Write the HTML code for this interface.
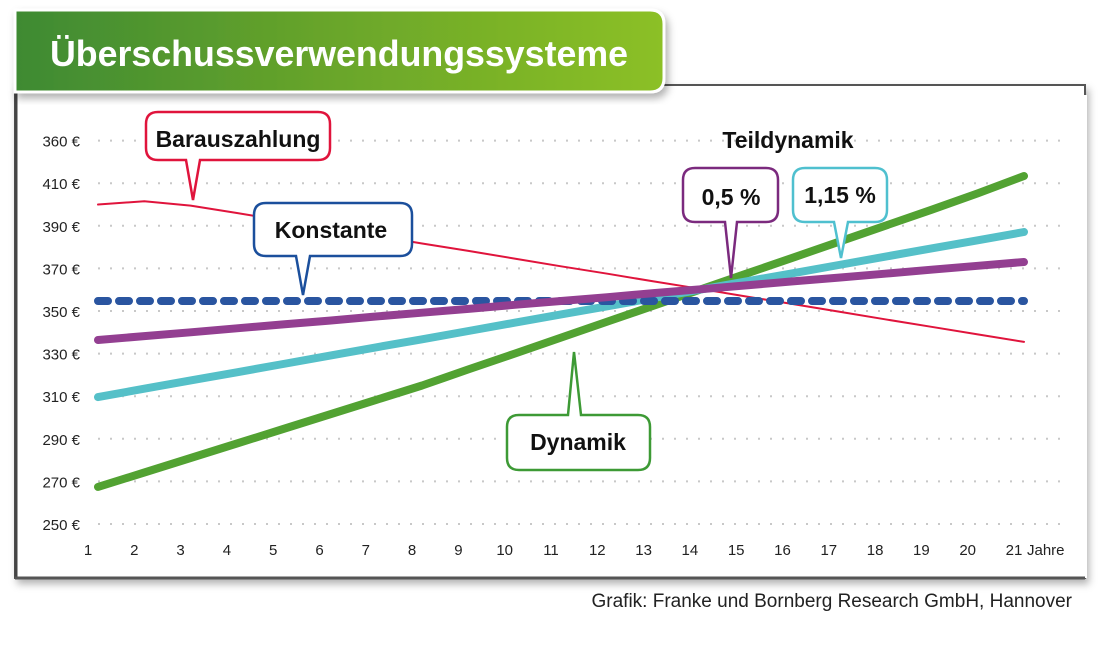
<!DOCTYPE html>
<html><head><meta charset="utf-8"><style>
body{margin:0;width:1100px;height:642px;background:#fff;overflow:hidden;font-family:"Liberation Sans",sans-serif}
</style></head><body>
<svg width="1100" height="642" viewBox="0 0 1100 642" xmlns="http://www.w3.org/2000/svg">
<defs>
<linearGradient id="hg" x1="0" x2="1"><stop offset="0" stop-color="#3e8a32"/><stop offset="0.5" stop-color="#6aa62a"/><stop offset="1" stop-color="#8cc025"/></linearGradient>
<filter id="sh" x="-5%" y="-5%" width="110%" height="120%"><feDropShadow dx="3" dy="5" stdDeviation="4" flood-color="#000" flood-opacity="0.3"/></filter>
</defs>
<rect x="15" y="85" width="1070" height="493" fill="#fff" stroke="#555" stroke-width="2" filter="url(#sh)"/>
<rect x="15" y="95" width="1072" height="483" fill="#fff"/>
<line x1="16" y1="85" x2="16" y2="578" stroke="#444" stroke-width="3"/>
<line x1="15" y1="578" x2="1085" y2="578" stroke="#555" stroke-width="3"/>
<path d="M15,10 H650 Q664,10 664,24 V78 Q664,92 650,92 H15 Z" fill="url(#hg)" stroke="#fff" stroke-width="3" filter="url(#sh)"/>
<text x="50" y="66" fill="#fff" font-size="36" font-weight="bold" textLength="578" lengthAdjust="spacingAndGlyphs">Überschussverwendungssysteme</text>
<g id="grid"></g><g id="ylab"></g><g id="xlab"></g><g id="series"></g>
<g id="callouts" font-family="'Liberation Sans',sans-serif" font-weight="bold" font-size="23" fill="#111">
<path d="M158,112 H318 Q330,112 330,124 V148 Q330,160 318,160 H200 L193,200 L186,160 H158 Q146,160 146,148 V124 Q146,112 158,112 Z" fill="#fff" stroke="#e0143c" stroke-width="2.5"/>
<text x="238" y="147" text-anchor="middle">Barauszahlung</text>
<path d="M266,203 H400 Q412,203 412,215 V244 Q412,256 400,256 H310 L303,295 L296,256 H266 Q254,256 254,244 V215 Q254,203 266,203 Z" fill="#fff" stroke="#1b4f9c" stroke-width="2.5"/>
<text x="331" y="238" text-anchor="middle">Konstante</text>
<text x="788" y="148" text-anchor="middle">Teildynamik</text>
<path d="M695,168 H766 Q778,168 778,180 V210 Q778,222 766,222 H737 L731,278 L725,222 H695 Q683,222 683,210 V180 Q683,168 695,168 Z" fill="#fff" stroke="#7b2a7e" stroke-width="2.5"/>
<text x="731" y="205" text-anchor="middle">0,5 %</text>
<path d="M805,168 H875 Q887,168 887,180 V210 Q887,222 875,222 H848 L841,258 L834,222 H805 Q793,222 793,210 V180 Q793,168 805,168 Z" fill="#fff" stroke="#4fc0cf" stroke-width="2.5"/>
<text x="840" y="203" text-anchor="middle">1,15 %</text>
<path d="M574,352 L581,415 H638 Q650,415 650,427 V458 Q650,470 638,470 H519 Q507,470 507,458 V427 Q507,415 519,415 H568 L574,352 Z" fill="#fff" stroke="#3d9a35" stroke-width="2.5"/>
<text x="578" y="450" text-anchor="middle">Dynamik</text>
</g>
<text x="1072" y="607" text-anchor="end" font-size="19" fill="#222">Grafik: Franke und Bornberg Research GmbH, Hannover</text>
</svg>
<script>
const years=[1,2,3,4,5,6,7,8,9,10,11,12,13,14,15,16,17,18,19,20,21];
const yTickValues=[250,270,290,310,330,350,370,390,410,430];
const yTickLabels=["250 €","270 €","290 €","310 €","330 €","350 €","370 €","390 €","410 €","360 €"];
const barauszahlung=[400,401.5,399.5,396,392.4,388.8,385.3,381.7,378.2,374.6,371,367.5,363.9,360.4,356.8,353.3,349.7,346.1,342.6,339,335.5];
const konstante=[354.7,354.7,354.7,354.7,354.7,354.7,354.7,354.7,354.7,354.7,354.7,354.7,354.7,354.7,354.7,354.7,354.7,354.7,354.7,354.7,354.7];
const teil05=[336.4,338.2,340,341.9,343.7,345.5,347.4,349.2,351,352.9,354.7,356.5,358.4,360.2,362,363.9,365.7,367.5,369.4,371.2,373];
const teil115=[309.6,313.5,317.4,321.2,325.1,329,332.9,336.7,340.6,344.5,348.4,352.2,356.1,360,363.9,367.7,371.6,375.5,379.4,383.2,387.1];
const dynamik=[267.4,274.2,281,287.8,294.6,301.4,308.2,315,322.6,330,337.5,345,352.5,360,367.5,375,382.5,390,397.5,405.2,413.4];
const NS="http://www.w3.org/2000/svg";
const xs=y=>98+(y-1)*46.3;
const ys=v=>524-(v-250)/20*42.6;
function mk(tag,attrs,parent){const e=document.createElementNS(NS,tag);for(const k in attrs)e.setAttribute(k,attrs[k]);document.getElementById(parent).appendChild(e);return e;}
yTickValues.forEach((v,i)=>{
  const g=mk('line',{x1:98,x2:1070,y1:ys(v),y2:ys(v),stroke:'#c8c8c8','stroke-width':2,'stroke-dasharray':'2 10'},'grid');
  
  
  const t=mk('text',{x:80,y:ys(v)+6,'text-anchor':'end','font-size':15,fill:'#222'},'ylab');
  t.textContent=yTickLabels[i];
  
  
});
years.forEach(y=>{
  const t=mk('text',{x:xs(y)-10,y:555,'text-anchor':'middle','font-size':15,fill:'#222'},'xlab');
  t.textContent=String(y);
  
  
});
const jt=mk('text',{x:1027,y:555,'font-size':15,fill:'#222'},'xlab');
jt.textContent='Jahre';


function line(data,color,w,name,dash){
  const d=data.map((v,i)=>(i?'L':'M')+xs(years[i]).toFixed(1)+','+ys(v).toFixed(1)).join(' ');
  const p=mk('path',{d:d,fill:'none',stroke:color,'stroke-width':w,'stroke-linecap':'round','stroke-linejoin':'round'},'series');
  if(dash)p.setAttribute('stroke-dasharray',dash);
  
  
}
line(barauszahlung,'#e0143c',2,'barauszahlung-line');
line(dynamik,'#52a232',8,'dynamik-line');
line(teil115,'#55c0c8',8,'teildynamik-115-line');
line(konstante,'#2a55a0',8,'konstante-line','10 11');
line(teil05,'#933f91',8,'teildynamik-05-line');
</script>
</body></html>
